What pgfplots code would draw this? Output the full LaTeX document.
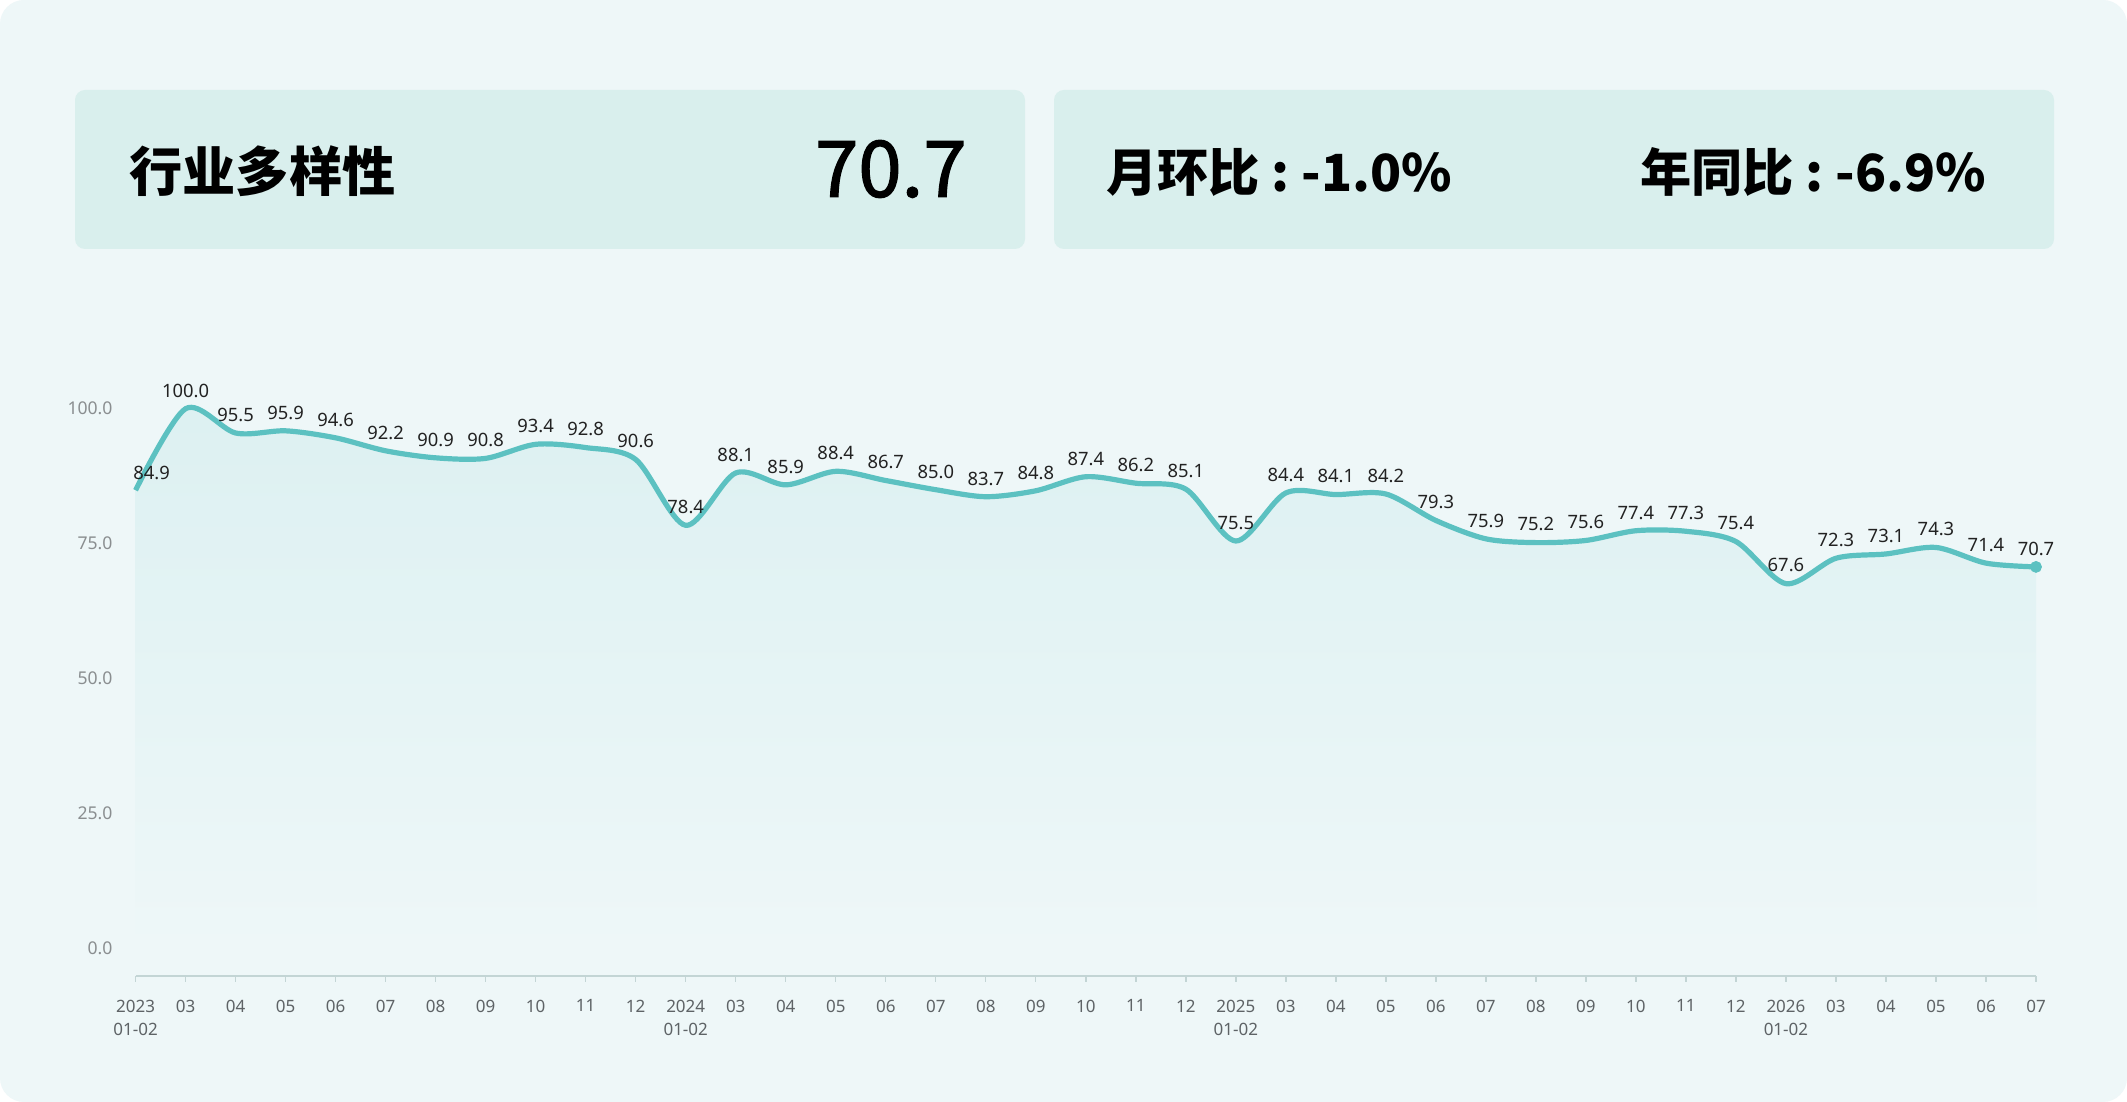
\documentclass[border=0pt]{standalone}
\usepackage{pgfplots}
\pgfplotsset{compat=1.18}
\usepackage{pgfplotstable}
\usepackage{fontspec}
\setmainfont{Noto Sans}
\newfontfamily\cjk{Noto Sans CJK SC}
\newfontfamily\cjkmed[FakeBold=1.6]{Noto Sans CJK SC}
\definecolor{bgC}{HTML}{EEF7F8}
\definecolor{cardC}{HTML}{D9EFED}
\definecolor{lineC}{HTML}{5CC1C1}
\definecolor{axisC}{HTML}{C3D5D5}
\definecolor{xlabC}{HTML}{5E6366}
\definecolor{ylabC}{HTML}{8A8E90}
\definecolor{dlabC}{HTML}{222222}

\pgfplotstableread{
x y
0 84.9
1 100.0
2 95.5
3 95.9
4 94.6
5 92.2
6 90.9
7 90.8
8 93.4
9 92.8
10 90.6
11 78.4
12 88.1
13 85.9
14 88.4
15 86.7
16 85.0
17 83.7
18 84.8
19 87.4
20 86.2
21 85.1
22 75.5
23 84.4
24 84.1
25 84.2
26 79.3
27 75.9
28 75.2
29 75.6
30 77.4
31 77.3
32 75.4
33 67.6
34 72.3
35 73.1
36 74.3
37 71.4
38 70.7
}\datatable

\begin{document}
\begin{tikzpicture}[x=1pt,y=1pt]
\fill[white] (0,0) rectangle (1063.5,551);
\fill[bgC, rounded corners=12pt] (0,0) rectangle (1063.5,551);
\fill[cardC, rounded corners=5pt] (37.5,426.5) rectangle (512.5,506);
\fill[cardC, rounded corners=5pt] (527,426.5) rectangle (1027,506);
\node[anchor=west, inner sep=0] at (64.5,465.5) {\cjk\bfseries\fontsize{26.6pt}{30pt}\selectfont 行业多样性};
\node[anchor=east, inner sep=0] at (483.5,466.5) {\cjkmed\fontsize{39pt}{44pt}\selectfont 70.7};
\node[anchor=west, inner sep=0] at (553,465) {\cjk\bfseries\fontsize{25.6pt}{30pt}\selectfont 月环比~:~-1.0\%};
\node[anchor=west, inner sep=0] at (820,465) {\cjk\bfseries\fontsize{25.6pt}{30pt}\selectfont 年同比~:~-6.9\%};

\begin{axis}[
  at={(67.8pt,63.15pt)}, anchor=south west,
  scale only axis, width=950.2pt, height=297pt,
  xmin=0, xmax=38, ymin=-5, ymax=105,
  clip=false,
  axis x line=bottom, axis y line=left,
  x axis line style={draw=axisC, line width=1pt, -},
  y axis line style={draw=none},
  tick align=outside,
  major tick length=3pt,
  xtick style={draw=axisC, line width=0.7pt},
  ytick style={draw=none},
  xtick={0,...,38},
  xticklabels={{2023\\01-02},03,04,05,06,07,08,09,10,11,12,{2024\\01-02},03,04,05,06,07,08,09,10,11,12,{2025\\01-02},03,04,05,06,07,08,09,10,11,12,{2026\\01-02},03,04,05,06,07},
  x tick label style={font=\fontsize{8.5pt}{11.5pt}\selectfont, text=xlabC, align=center, yshift=-5.5pt},
  ytick={0,25,50,75,100},
  yticklabels={0.0,25.0,50.0,75.0,100.0},
  y tick label style={font=\fontsize{8.8pt}{10pt}\selectfont, text=ylabC, xshift=-5pt},
  /pgf/number format/assume math mode=true,
]
\addplot[draw=none, smooth, top color=lineC!12!bgC, bottom color=bgC] table[x=x,y=y] {\datatable} \closedcycle;
\addplot[lineC, line width=2.6pt, smooth, mark=none] table[x=x,y=y] {\datatable};
\addplot[only marks, mark=*, mark size=2.75pt, lineC, skip coords between index={0}{38}] table[x=x,y=y] {\datatable};
\addplot[draw=none, mark=none, skip coords between index={0}{1},
  point meta=explicit symbolic,
  nodes near coords,
  nodes near coords style={font=\fontsize{9.2pt}{10pt}\selectfont, text=dlabC, anchor=south, inner sep=0pt, yshift=5.5pt}]
  table[x=x,y=y,meta=y] {\datatable};
\addplot[draw=none, mark=none, skip coords between index={1}{39},
  point meta=explicit symbolic,
  nodes near coords,
  nodes near coords style={font=\fontsize{9.2pt}{10pt}\selectfont, text=dlabC, anchor=south, inner sep=0pt, yshift=4.8pt, xshift=8pt}]
  table[x=x,y=y,meta=y] {\datatable};
\end{axis}
\pgfresetboundingbox
\useasboundingbox (0,0) rectangle (1063.5,551);
\end{tikzpicture}
\end{document}
